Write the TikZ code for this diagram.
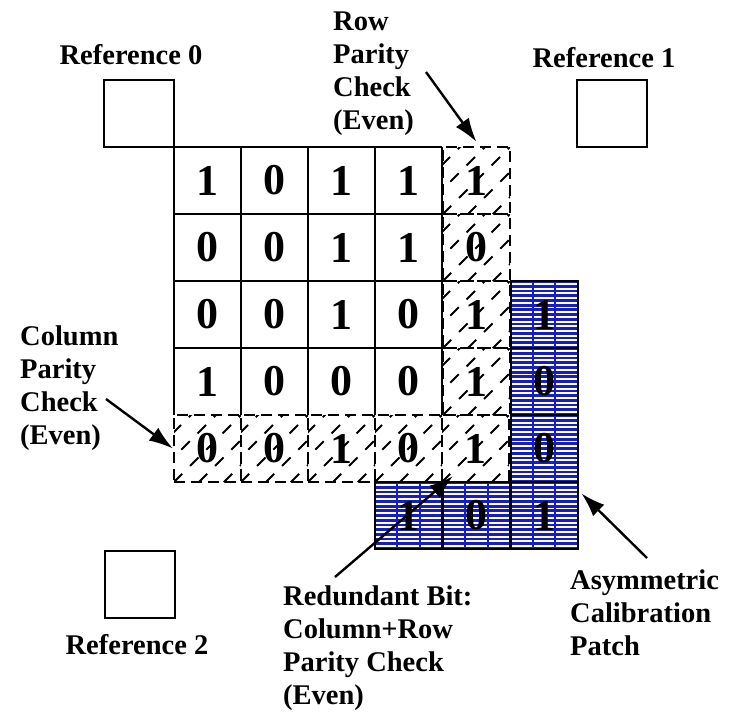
\documentclass[tikz,border=0pt]{standalone}
\usepackage{fontspec}
\setmainfont{Liberation Serif}
\usetikzlibrary{calc,arrows.meta}
\definecolor{calblue}{RGB}{22,30,195}
\begin{document}
\begin{tikzpicture}[x=1pt,y=-1pt,
  lbl/.style={font=\fontsize{28.5}{33}\selectfont\bfseries, align=left, inner sep=0pt, anchor=west},
  reflbl/.style={font=\fontsize{28.5}{33}\selectfont\bfseries, inner sep=0pt},
  refbox/.style={draw, line width=2pt, minimum width=70pt, minimum height=67pt, inner sep=0pt},
  cell/.style={minimum width=67pt, minimum height=67pt, inner sep=0pt, font=\fontsize{44}{44}\selectfont\bfseries},
  gridline/.style={line width=2.2pt},
  hatchline/.style={line width=1.8pt, dash pattern=on 12pt off 11pt},
  calline/.style={calblue, line width=2.8pt, solid},
  paritycell/.style={cell, draw, line width=2.2pt, dash pattern=on 11pt off 6pt,
    path picture={\foreach \k in {-3,...,3}{\draw[hatchline] ($(path picture bounding box.center)+(\k*25-50,50)$) -- ++(100,-100);}}},
  calcell/.style={cell, fill=white, draw, line width=2pt, solid,
    path picture={\foreach \j in {-7,...,7}{\draw[calline] ($(path picture bounding box.center)+(-40,\j*4.7)$) -- ++(80,0);}
      \foreach \i in {-11.2,11.2}{\draw[calline, line width=2pt] ($(path picture bounding box.center)+(\i,-40)$) -- ++(0,80);}}},
  pointer/.style={line width=2.4pt, -{Latex[length=24pt,width=16pt]}}
]
\useasboundingbox (0,0) rectangle (734,715);

% reference squares
\node[reflbl] (ref0lbl) at (131,55) {Reference 0};
\node[refbox] (ref0) at (139,113.5) {};
\node[reflbl] (ref1lbl) at (604,58) {Reference 1};
\node[refbox] (ref1) at (612,113.5) {};
\node[refbox] (ref2) at (140,584.5) {};
\node[reflbl] (ref2lbl) at (137,645) {Reference 2};

% data cells
\foreach \r/\vals in {0/{1,0,1,1},1/{0,0,1,1},2/{0,0,1,0},3/{1,0,0,0}}{
  \foreach \v [count=\c from 0] in \vals {
    \node[cell] (g-\r-\c) at (207.5+67*\c,180.5+67*\r) {\v};
  }
}
\foreach \r in {0,...,3} \draw[gridline] (g-\r-0.north west) -- (g-\r-3.north east);
\foreach \c in {0,...,3} \draw[gridline] (g-0-\c.north west) -- (g-3-\c.south west);
\draw[gridline] (g-0-3.north east) -- (g-3-3.south east);

% row parity column
\foreach \r/\v in {0/1,1/0,2/1,3/1}{
  \node[paritycell] (g-\r-4) at (476.5,180.5+67*\r) {\v};
}
% column parity row and redundant bit
\foreach \c/\v in {0/0,1/0,2/1,3/0,4/1}{
  \node[paritycell] (g-4-\c) at (207.5+67*\c,448.5) {\v};
}

% asymmetric calibration patch
\foreach \r/\v in {2/1,3/0,4/0,5/1}{
  \node[calcell] (g-\r-5) at (544,180.5+67*\r) {\v};
}
\node[calcell] (g-5-3) at (408.5,515.5) {1};
\node[calcell] (g-5-4) at (476.5,515.5) {0};

% labels
\node[lbl] (rowlbl) at (333,74) {Row\\Parity\\Check\\(Even)};
\node[lbl] (collbl) at (20,388) {Column\\Parity\\Check\\(Even)};
\node[lbl] (redlbl) at (283,648) {Redundant Bit:\\Column+Row\\Parity Check\\(Even)};
\node[lbl] (asylbl) at (570,613) {Asymmetric\\Calibration\\Patch};

% pointers
\coordinate (rpA) at (426,72);
\coordinate (cpA) at (106,399);
\coordinate (rbA) at (335,577);
\coordinate (acA) at (647,558);
\draw[pointer] (rpA) -- ([shift={(0,-4)}]g-0-4.north);
\draw[pointer] (cpA) -- (g-4-0.west);
\draw[pointer] (rbA) -- ([shift={(12,-7)}]g-4-4.south west);
\draw[pointer] (acA) -- ([shift={(3,-22)}]g-5-5.east);
\end{tikzpicture}
\end{document}
